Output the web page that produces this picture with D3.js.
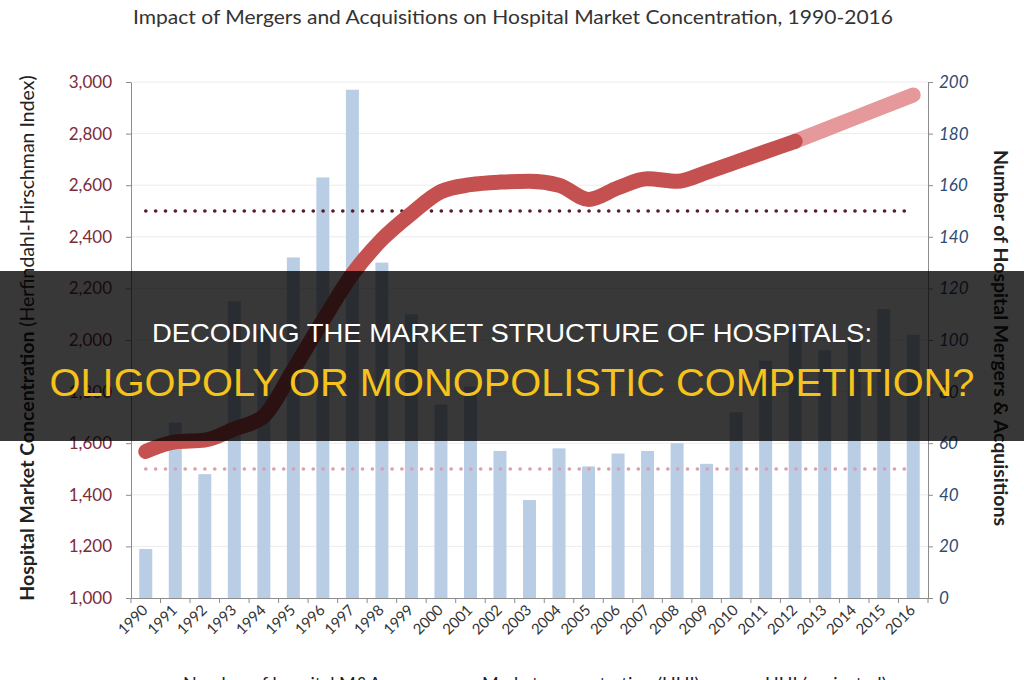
<!DOCTYPE html>
<html>
<head>
<meta charset="utf-8">
<script src="https://cdn.jsdelivr.net/npm/d3@7"></script>
<style>
  html, body { margin: 0; padding: 0; background: #fff; }
  svg { display: block; font-family: Lato, "Open Sans", sans-serif; }
</style>
</head>
<body>
<svg id="chart" width="1024" height="680"></svg>
<script>
// categories
const years = ["1990","1991","1992","1993","1994","1995","1996","1997","1998","1999",
  "2000","2001","2002","2003","2004","2005","2006","2007","2008","2009",
  "2010","2011","2012","2013","2014","2015","2016"];
// number of hospital M&A (right axis)
const mergers = [19, 68, 48, 115, 104, 132, 163, 197, 130, 110,
  75, 82, 57, 38, 58, 51, 56, 57, 60, 52,
  72, 92, 104, 96, 100, 112, 102];
// market concentration (HHI, left axis)
const hhi = [1568, 1605, 1612, 1655, 1705, 1885, 2075, 2255, 2390, 2490,
  2575, 2602, 2612, 2615, 2600, 2545, 2590, 2625, 2615, 2650,
  2690, 2730, 2770, 2815, 2860, 2905, 2950];
const projectedFrom = "2012";
const refLines = [2500, 1500];
const leftTicks = [1000, 1200, 1400, 1600, 1800, 2000, 2200, 2400, 2600, 2800, 3000];
const rightTicks = [0, 20, 40, 60, 80, 100, 120, 140, 160, 180, 200];
const legendItems = ["Number of hospital M&A", "Market concentration (HHI)", "HHI (projected)"];

const svg = d3.select("#chart");
const plotL = 131, plotR = 928, plotT = 82, plotB = 598;

const x = d3.scaleBand().domain(years).range([plotL, plotR]).paddingInner(0.56).paddingOuter(0.28);
const xc = d => x(d) + x.bandwidth() / 2;
const yL = d3.scaleLinear().domain([1000, 3000]).range([plotB, plotT]);
const yR = d3.scaleLinear().domain([0, 200]).range([plotB, plotT]);

// title
svg.append("text").attr("x", 513).attr("y", 24).attr("text-anchor", "middle")
  .attr("font-size", 19).attr("fill", "#333")
  .attr("textLength", 760).attr("lengthAdjust", "spacingAndGlyphs")
  .text("Impact of Mergers and Acquisitions on Hospital Market Concentration, 1990-2016");

// gridlines
svg.append("g").selectAll("line").data(leftTicks.slice(1)).join("line")
  .attr("x1", plotL).attr("x2", plotR).attr("y1", d => yL(d)).attr("y2", d => yL(d))
  .attr("stroke", "#ececec").attr("stroke-width", 1);

// bars
svg.append("g").selectAll("rect").data(years).join("rect")
  .attr("x", d => x(d)).attr("width", x.bandwidth())
  .attr("y", (d, i) => yR(mergers[i])).attr("height", (d, i) => plotB - yR(mergers[i]))
  .attr("fill", "#b9cde5");

// dotted reference lines
const dotColors = ["#5a1c2b", "#dc9fae"];
refLines.forEach((v, k) => {
  svg.append("line")
    .attr("x1", xc(years[0])).attr("x2", xc(years[years.length - 1]))
    .attr("y1", yL(v)).attr("y2", yL(v))
    .attr("stroke", dotColors[k]).attr("stroke-width", 3.6)
    .attr("stroke-linecap", "round").attr("stroke-dasharray", "0.1 9.75");
});

// HHI line
const pts = years.map((d, i) => ({ year: d, v: hhi[i] }));
const line = d3.line().x(d => xc(d.year)).y(d => yL(d.v)).curve(d3.curveMonotoneX);
const cut = years.indexOf(projectedFrom);
svg.append("path").datum(pts.slice(cut)).attr("d", line)
  .attr("fill", "none").attr("stroke", "#e5999a").attr("stroke-width", 15).attr("stroke-linecap", "round");
svg.append("path").datum(pts.slice(0, cut + 1)).attr("d", line)
  .attr("fill", "none").attr("stroke", "#c4504f").attr("stroke-width", 15).attr("stroke-linecap", "round");

// left axis
const gl = svg.append("g").attr("transform", `translate(${plotL},0)`)
  .call(d3.axisLeft(yL).tickValues(leftTicks).tickFormat(d3.format(",")).tickSizeInner(5).tickSizeOuter(0).tickPadding(14));
gl.select(".domain").attr("stroke", "#8c8c8c");
gl.selectAll(".tick line").attr("stroke", "#8c8c8c");
gl.selectAll(".tick text").attr("font-size", 17).attr("fill", "#7b2b3c").attr("font-family", "Lato");

// right axis
const gr = svg.append("g").attr("transform", `translate(${plotR},0)`)
  .call(d3.axisRight(yR).tickValues(rightTicks).tickSizeInner(5).tickSizeOuter(0).tickPadding(6));
gr.select(".domain").attr("stroke", "#8c8c8c");
gr.selectAll(".tick line").attr("stroke", "#8c8c8c");
gr.selectAll(".tick text").attr("font-size", 17).attr("fill", "#2c4c74")
  .attr("font-style", "italic").attr("font-family", "Lato");

// bottom axis: labels at centres, ticks at band edges
const gb = svg.append("g").attr("transform", `translate(0,${plotB})`)
  .call(d3.axisBottom(x).tickSize(0).tickPadding(0));
gb.select(".domain").attr("stroke", "#8c8c8c");
gb.selectAll(".tick text")
  .attr("font-size", 15).attr("fill", "#333").attr("font-family", "Lato")
  .attr("text-anchor", "end").attr("dy", 0)
  .attr("transform", "translate(3,13) rotate(-45)");
const edges = years.map(d => x(d) - x.step() * x.paddingInner() / 2).concat([plotR]);
svg.append("g").selectAll("line").data(edges).join("line")
  .attr("x1", d => d).attr("x2", d => d).attr("y1", plotB).attr("y2", plotB + 5)
  .attr("stroke", "#8c8c8c");

// axis titles
const lt = svg.append("text").attr("transform", "translate(34,338) rotate(-90)")
  .attr("text-anchor", "middle").attr("font-size", 19.5).attr("fill", "#222");
lt.append("tspan").attr("font-weight", "bold").text("Hospital Market Concentration ");
lt.append("tspan").text("(Herfindahl-Hirschman Index)");
svg.append("text").attr("transform", "translate(994,338) rotate(90)")
  .attr("text-anchor", "middle").attr("font-size", 19.5).attr("font-weight", "bold").attr("fill", "#222")
  .text("Number of Hospital Mergers & Acquisitions");

// legend (cut by the bottom edge, as in the source)
const legendX = [183, 482, 765];
legendItems.forEach((t, i) => {
  svg.append("text").attr("x", legendX[i]).attr("y", 690).attr("font-size", 18).attr("fill", "#222").text(t);
});

// banner overlay
svg.append("rect").attr("x", 0).attr("y", 271).attr("width", 1024).attr("height", 170)
  .attr("fill", "rgba(0,0,0,0.78)");
svg.append("text").attr("x", 512).attr("y", 342).attr("text-anchor", "middle")
  .attr("font-family", "Liberation Sans, Arial, sans-serif").attr("font-size", 26).attr("fill", "#fff")
  .attr("textLength", 720).attr("lengthAdjust", "spacingAndGlyphs")
  .text("DECODING THE MARKET STRUCTURE OF HOSPITALS:");
svg.append("text").attr("x", 512).attr("y", 396).attr("text-anchor", "middle")
  .attr("font-family", "Liberation Sans, Arial, sans-serif").attr("font-size", 39).attr("fill", "#f6c31c")
  .attr("textLength", 925).attr("lengthAdjust", "spacingAndGlyphs")
  .text("OLIGOPOLY OR MONOPOLISTIC COMPETITION?");
</script>
</body>
</html>
